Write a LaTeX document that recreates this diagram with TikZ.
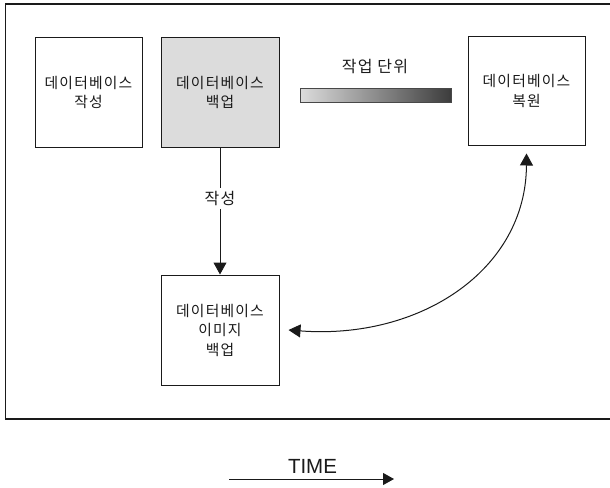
\documentclass[tikz,border=0pt]{standalone}
\usepackage{fontspec}
\setmainfont{Liberation Sans}
\newfontfamily\kr{Noto Sans CJK KR}[LetterSpace=8]
\usetikzlibrary{arrows.meta,calc}
\definecolor{boxgray}{HTML}{DCDCDC}
\definecolor{ink}{HTML}{1A1A1A}
\begin{document}
\begin{tikzpicture}[x=1pt,y=-1pt,
  stagebox/.style={draw=ink,line width=1pt,inner sep=0pt,align=center,
    text=ink,font=\kr\fontsize{14.8}{19.5}\selectfont},
  tip/.style={-{Triangle[length=12pt,width=13pt]}},
  conn/.style={draw=ink,line width=1pt}]
\useasboundingbox (0,0) rectangle (610,487);
% outer frame (open on the right)
\draw[ink,line width=1.5pt] (612,4) -- (5.5,4) -- (5.5,419) -- (612,419);

% stage boxes
\node[stagebox,minimum width=107pt,minimum height=109pt] (create) at (88.5,92.5)
  {데이터베이스\\작성};
\node[stagebox,fill=boxgray,minimum width=118pt,minimum height=109pt] (backup) at (220,92.5)
  {데이터베이스\\백업};
\node[stagebox,minimum width=117pt,minimum height=108pt] (restore) at (526.5,91)
  {데이터베이스\\복원};
\node[stagebox,minimum width=118pt,minimum height=110pt] (image) at (220,330)
  {데이터베이스\\이미지\\백업};

% unit-of-work bar
\node[draw=ink!80,line width=1pt,left color=boxgray,right color=ink!85,
  minimum width=151pt,minimum height=14pt,inner sep=0pt] (bar) at (375.5,95) {};
\node[text=ink,font=\kr\fontsize{16}{18}\selectfont] (unit) at (375,67) {작업 단위};

% backup -> image backup
\draw[conn,tip] (backup.south) -- node[pos=0.4,fill=white,inner sep=3pt,text=ink,
  font=\kr\fontsize{16}{18}\selectfont] (mk) {작성} (image.north);

% restore <-> image backup
\coordinate (ri) at ($(image.east)+(9,0)$);
\coordinate (rr) at ($(restore.south)+(0,8)$);
\draw[conn,{Triangle[length=12pt,width=13pt]}-{Triangle[length=12pt,width=13pt]}]
  (ri) .. controls (420,340) and (526,270) .. (rr);

% time axis
\coordinate (t0) at (229,479);
\coordinate (t1) at (394,479);
\draw[conn,-{Triangle[length=11pt,width=12pt]}] (t0) -- (t1);
\node[font=\fontsize{20.5}{24}\selectfont,text=ink,anchor=base] (time) at (312.5,473) {TIME};
\end{tikzpicture}
\end{document}
